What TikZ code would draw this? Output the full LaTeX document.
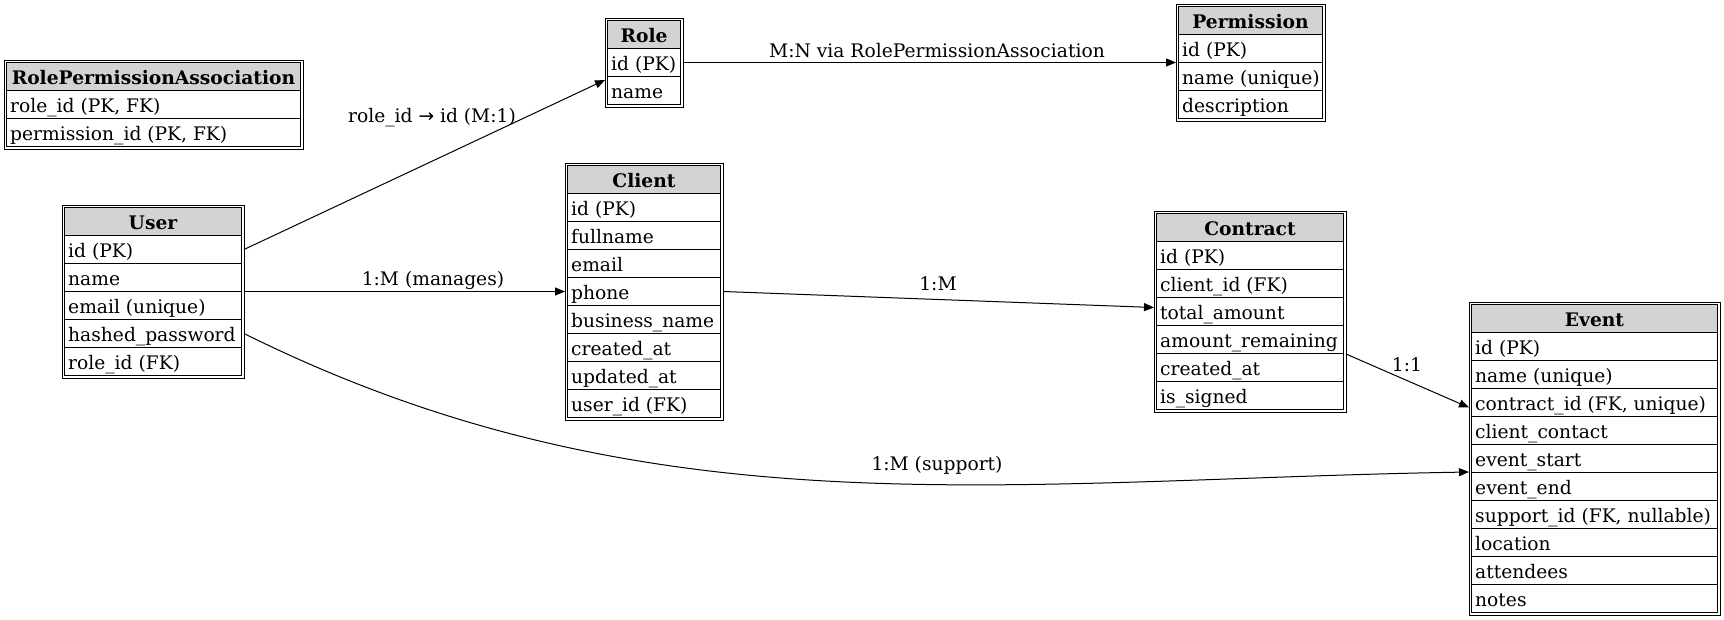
\documentclass[tikz,border=0pt]{standalone}
\usepackage{fontspec}
\setmainfont{DejaVu Serif}
\newfontfamily\arrowfont{DejaVu Sans}
\usetikzlibrary{arrows.meta,calc}
\definecolor{headgray}{HTML}{D3D3D3}
\newcommand{\erfont}{\fontsize{18.67}{22}\selectfont}
\tikzset{
  cell/.style={draw, line width=1pt, anchor=north west, minimum height=28pt, inner sep=0pt},
  hcell/.style={cell, fill=headgray},
  celltext/.style={anchor=base west, inner sep=0pt, font=\erfont},
  htext/.style={anchor=base, inner sep=0pt, font=\erfont\bfseries},
  tabborder/.style={draw, line width=1pt},
  conn/.style={-{Triangle[length=10pt,width=8pt]}, line width=1pt},
  elabel/.style={anchor=base, inner sep=0pt, font=\erfont}
}
% table helpers
\newcommand{\ertab}[5]{%
  \def\erp{#1}\def\erx{#2}\def\ery{#3}%
  \pgfmathsetmacro\erin{#4-4}%
  \node[hcell, minimum width=\erin pt] (#1-h) at (#2+2,#3+2) {};
  \node[htext] (#1-ht) at ([yshift=-7.5pt]#1-h.center) {#5};}
\newcommand{\erow}[3]{%
  \node[cell, minimum width=\erin pt] (\erp-#2) at (\erx+2, {\ery+2+28*#1}) {};
  \node[celltext] (\erp-#2-t) at ([xshift=4pt,yshift=-7.5pt]\erp-#2.west) {#3};}
\newcommand{\erend}[1]{%
  \draw[tabborder] ($(\erp-h.north west)+(-2,-2)$) rectangle ($(\erp-#1.south east)+(2,2)$);}

\begin{document}
\begin{tikzpicture}[x=1pt,y=-1pt]
\useasboundingbox[fill=white] (0,0) rectangle (1724,619);

% RolePermissionAssociation
\ertab{rpa}{4}{60}{298}{RolePermissionAssociation}
\erow{1}{rid}{role\_id (PK, FK)}
\erow{2}{pid}{permission\_id (PK, FK)}
\erend{pid}

% Role
\ertab{role}{605}{18}{77}{Role}
\erow{1}{id}{id (PK)}
\erow{2}{name}{name}
\erend{name}

% Permission
\ertab{perm}{1176}{4}{148}{Permission}
\erow{1}{id}{id (PK)}
\erow{2}{name}{name (unique)}
\erow{3}{desc}{description}
\erend{desc}

% User
\ertab{user}{62}{205}{181}{User}
\erow{1}{id}{id (PK)}
\erow{2}{name}{name}
\erow{3}{email}{email (unique)}
\erow{4}{pass}{hashed\_password}
\erow{5}{role}{role\_id (FK)}
\erend{role}

% Client
\ertab{client}{565}{163}{157}{Client}
\erow{1}{id}{id (PK)}
\erow{2}{fullname}{fullname}
\erow{3}{email}{email}
\erow{4}{phone}{phone}
\erow{5}{bname}{business\_name}
\erow{6}{created}{created\_at}
\erow{7}{updated}{updated\_at}
\erow{8}{user}{user\_id (FK)}
\erend{user}

% Contract
\ertab{contract}{1154}{211}{191}{Contract}
\erow{1}{id}{id (PK)}
\erow{2}{client}{client\_id (FK)}
\erow{3}{total}{total\_amount}
\erow{4}{remain}{amount\_remaining}
\erow{5}{created}{created\_at}
\erow{6}{signed}{is\_signed}
\erend{signed}

% Event
\ertab{event}{1469}{302}{250}{Event}
\erow{1}{id}{id (PK)}
\erow{2}{name}{name (unique)}
\erow{3}{contract}{contract\_id (FK, unique)}
\erow{4}{contact}{client\_contact}
\erow{5}{start}{event\_start}
\erow{6}{end}{event\_end}
\erow{7}{support}{support\_id (FK, nullable)}
\erow{8}{location}{location}
\erow{9}{attendees}{attendees}
\erow{10}{notes}{notes}
\erend{notes}

% connectors
\draw[conn] ([xshift=2pt]user-id.east) -- ([xshift=-2pt,yshift=-4pt]role-name.north west);
\draw[conn] ([xshift=2pt]role-id.east) -- ([xshift=-2pt]role-id.east -| perm-id.west);
\draw[conn] ([xshift=2pt]client-phone.west -| user-name.east) -- ([xshift=-2pt]client-phone.west);
\draw[conn] ([xshift=2pt]client-phone.east) -- ([xshift=-2pt,yshift=4pt]contract-total.west);
\draw[conn] ([xshift=2pt]contract-remain.south east) -- ([xshift=-2pt,yshift=-5pt]event-contract.west);
\draw[conn] ([xshift=2pt]user-pass.east) .. controls (650,535) and (1000,480) .. ([xshift=-2pt,yshift=1pt]event-start.south west);

% labels
\node[elabel] (lab-role) at (432,122) {role\_id {\arrowfont →} id (M:1)};
\node[elabel] (lab-perm) at (937,57) {M:N via RolePermissionAssociation};
\node[elabel] (lab-manages) at (433,285) {1:M (manages)};
\node[elabel] (lab-contract) at (938,290) {1:M};
\node[elabel] (lab-event) at (1407,371) {1:1};
\node[elabel] (lab-support) at (937,470) {1:M (support)};
\end{tikzpicture}
\end{document}
